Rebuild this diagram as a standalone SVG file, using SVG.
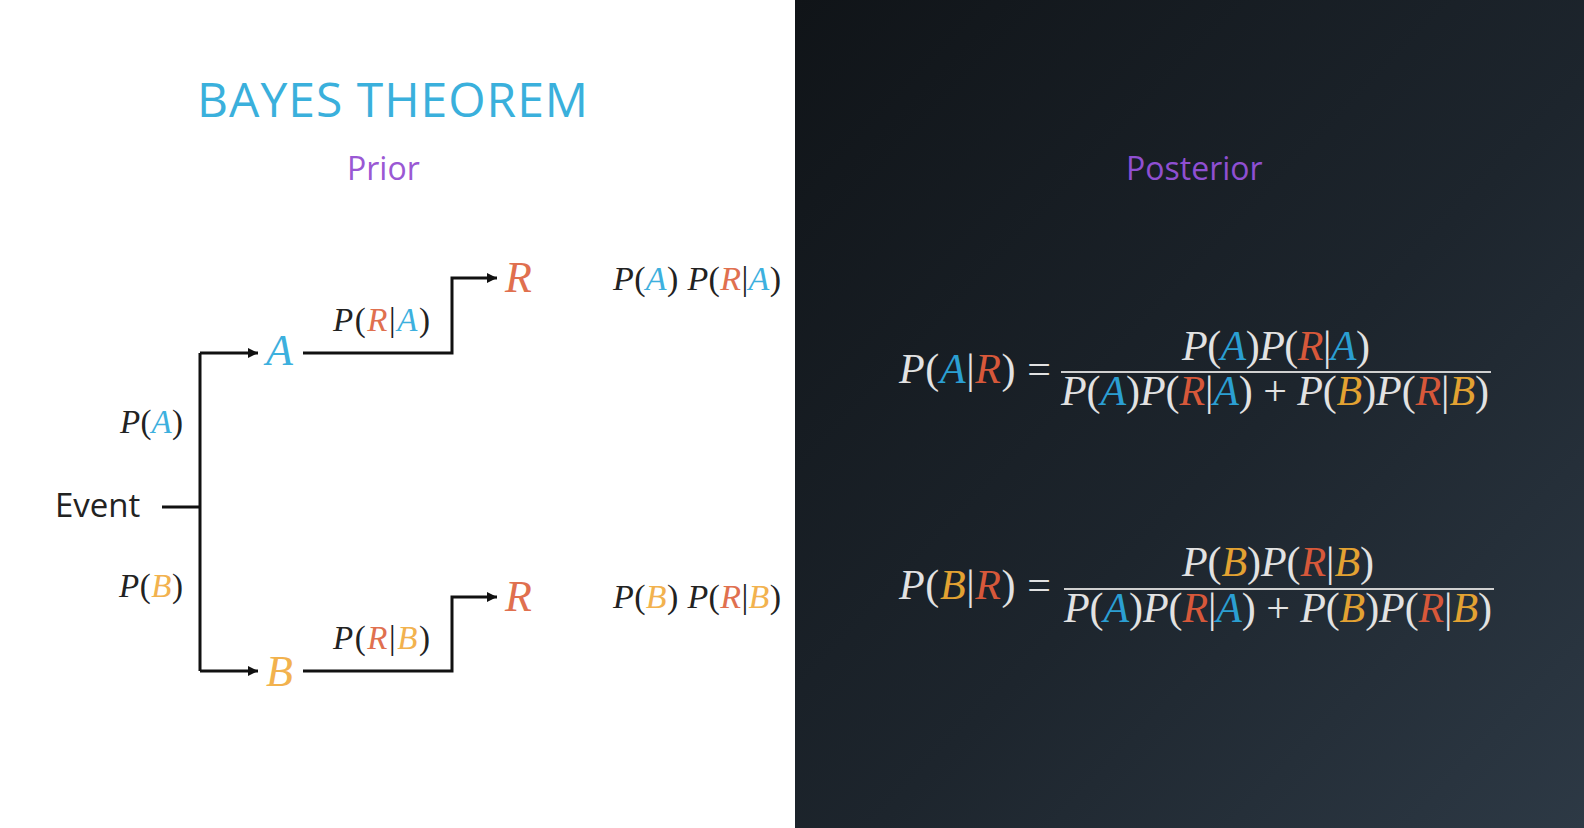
<svg xmlns="http://www.w3.org/2000/svg" width="1584" height="828" viewBox="0 0 1584 828">
  <defs>
    <linearGradient id="panelBg" x1="0" y1="0" x2="1" y2="1">
      <stop offset="0" stop-color="#101418"/>
      <stop offset="0.55" stop-color="#1d252d"/>
      <stop offset="1" stop-color="#2d3945"/>
    </linearGradient>
    <marker id="arrowHead" viewBox="0 0 10 10" refX="10" refY="5" markerWidth="11" markerHeight="10" markerUnits="userSpaceOnUse" orient="auto">
      <path d="M0,0 L10,5 L0,10 z" fill="#111"/>
    </marker>
  </defs>
  <style>
    .sans{font-family:"Open Sans","Liberation Sans",sans-serif;}
    .math{font-family:"Liberation Serif","DejaVu Serif",serif;}
    .v{font-style:italic}
    .ink{fill:#222222}
    .chalk{fill:#e2e2e2}
    .ca{fill:#3db0de}
    .cb{fill:#f2b24e}
    .cr{fill:#e0704f}
    .da{fill:#2b9fd2}
    .db{fill:#e3a232}
    .dr{fill:#d7583a}
    .wire{fill:none;stroke:#111;stroke-width:3}
    .bar{stroke:#d0d0d0;stroke-width:2}
  </style>

  <!-- backgrounds -->
  <rect x="0" y="0" width="1584" height="828" fill="#ffffff"/>
  <rect x="795" y="0" width="789" height="828" fill="url(#panelBg)"/>

  <!-- headings -->
  <text class="sans" x="197" y="117" font-size="48" fill="#3ab0dc" textLength="391">BAYES THEOREM</text>
  <text class="sans" x="347" y="180" font-size="32" fill="#9a58d4">Prior</text>
  <text class="sans" x="1126" y="180" font-size="32" fill="#8f4fd2">Posterior</text>

  <!-- connectors -->
  <g id="connectors">
    <path class="wire" d="M162,507 H200"/>
    <path class="wire" d="M200,353 V671"/>
    <path class="wire" d="M200,353 H258" marker-end="url(#arrowHead)"/>
    <path class="wire" d="M200,671 H258" marker-end="url(#arrowHead)"/>
    <path class="wire" d="M303,353 H452 V278 H497" marker-end="url(#arrowHead)"/>
    <path class="wire" d="M303,671 H452 V597 H497" marker-end="url(#arrowHead)"/>
  </g>

  <!-- tree nodes -->
  <g id="node-event">
    <text class="sans ink" x="55" y="517" font-size="33">Event</text>
  </g>
  <g id="node-a">
    <text class="math v ca" x="266" y="365" font-size="44">A</text>
  </g>
  <g id="node-b">
    <text class="math v cb" x="266" y="686" font-size="44">B</text>
  </g>
  <g id="node-r-top">
    <text class="math v cr" x="505" y="292" font-size="44">R</text>
  </g>
  <g id="node-r-bottom">
    <text class="math v cr" x="505" y="611" font-size="44">R</text>
  </g>

  <!-- branch labels -->
  <g id="label-pa">
    <text class="math ink" x="120" y="433" font-size="33" textLength="63"><tspan class="v">P</tspan>(<tspan class="v ca">A</tspan>)</text>
  </g>
  <g id="label-pb">
    <text class="math ink" x="119" y="597" font-size="33" textLength="64"><tspan class="v">P</tspan>(<tspan class="v cb">B</tspan>)</text>
  </g>
  <g id="label-pra">
    <text class="math ink" x="333" y="331" font-size="33" textLength="97"><tspan class="v">P</tspan>(<tspan class="v cr">R</tspan>|<tspan class="v ca">A</tspan>)</text>
  </g>
  <g id="label-prb">
    <text class="math ink" x="333" y="649" font-size="33" textLength="97"><tspan class="v">P</tspan>(<tspan class="v cr">R</tspan>|<tspan class="v cb">B</tspan>)</text>
  </g>

  <!-- joint probabilities -->
  <g id="joint-a">
    <text class="math ink" x="613" y="290" font-size="34" textLength="168"><tspan class="v">P</tspan>(<tspan class="v ca">A</tspan>) <tspan class="v">P</tspan>(<tspan class="v cr">R</tspan>|<tspan class="v ca">A</tspan>)</text>
  </g>
  <g id="joint-b">
    <text class="math ink" x="613" y="608" font-size="34" textLength="168"><tspan class="v">P</tspan>(<tspan class="v cb">B</tspan>) <tspan class="v">P</tspan>(<tspan class="v cr">R</tspan>|<tspan class="v cb">B</tspan>)</text>
  </g>

  <!-- posterior for A -->
  <g id="posterior-a">
    <text class="math chalk" x="899" y="383" font-size="42" textLength="152"><tspan class="v">P</tspan>(<tspan class="v da">A</tspan>|<tspan class="v dr">R</tspan>) =</text>
    <text class="math chalk" x="1182" y="360" font-size="42" textLength="188"><tspan class="v">P</tspan>(<tspan class="v da">A</tspan>)<tspan class="v">P</tspan>(<tspan class="v dr">R</tspan>|<tspan class="v da">A</tspan>)</text>
    <line class="bar" x1="1061" y1="372" x2="1491" y2="372"/>
    <text class="math chalk" x="1061" y="405" font-size="42" textLength="428"><tspan class="v">P</tspan>(<tspan class="v da">A</tspan>)<tspan class="v">P</tspan>(<tspan class="v dr">R</tspan>|<tspan class="v da">A</tspan>) + <tspan class="v">P</tspan>(<tspan class="v db">B</tspan>)<tspan class="v">P</tspan>(<tspan class="v dr">R</tspan>|<tspan class="v db">B</tspan>)</text>
  </g>

  <!-- posterior for B -->
  <g id="posterior-b">
    <text class="math chalk" x="899" y="599" font-size="42" textLength="152"><tspan class="v">P</tspan>(<tspan class="v db">B</tspan>|<tspan class="v dr">R</tspan>) =</text>
    <text class="math chalk" x="1182" y="576" font-size="42" textLength="192"><tspan class="v">P</tspan>(<tspan class="v db">B</tspan>)<tspan class="v">P</tspan>(<tspan class="v dr">R</tspan>|<tspan class="v db">B</tspan>)</text>
    <line class="bar" x1="1064" y1="589" x2="1494" y2="589"/>
    <text class="math chalk" x="1064" y="622" font-size="42" textLength="428"><tspan class="v">P</tspan>(<tspan class="v da">A</tspan>)<tspan class="v">P</tspan>(<tspan class="v dr">R</tspan>|<tspan class="v da">A</tspan>) + <tspan class="v">P</tspan>(<tspan class="v db">B</tspan>)<tspan class="v">P</tspan>(<tspan class="v dr">R</tspan>|<tspan class="v db">B</tspan>)</text>
  </g>
</svg>
